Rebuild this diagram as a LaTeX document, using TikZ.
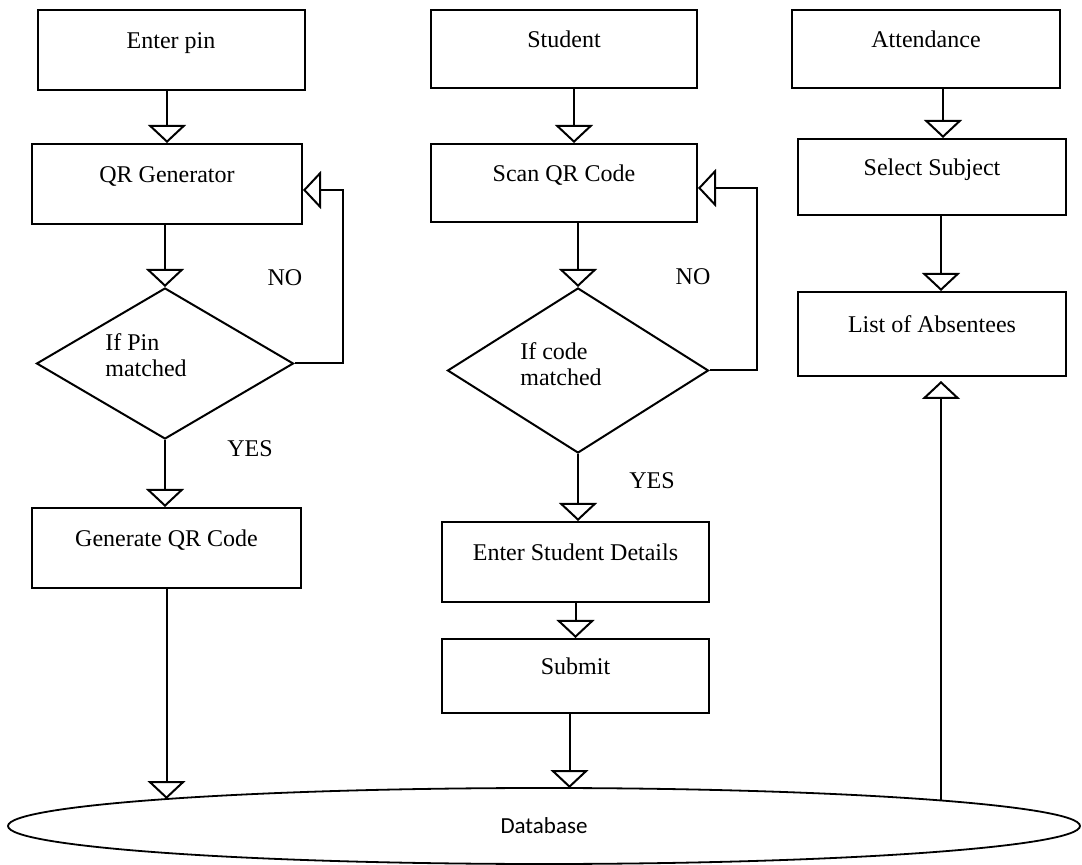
\documentclass[tikz,border=0pt]{standalone}
\usepackage{fontspec}
\setmainfont{Liberation Serif}
\newfontfamily\dbfont{Carlito}
\usetikzlibrary{arrows.meta, shapes.geometric}

\tikzset{
  box/.style 2 args={draw, line width=1pt, rectangle, inner sep=0pt,
    minimum width=#1, minimum height=#2, text height=9pt, text depth=10pt},
  cond/.style 2 args={draw, line width=1pt, diamond, inner sep=0pt,
    minimum width=#1, minimum height=#2},
  condtext/.style={align=left, font=\fontsize{12}{13}\selectfont},
  flow/.style={line width=1pt, ->},
}

\begin{document}
\begin{tikzpicture}[>={Triangle[open, width=19pt, length=9pt]}, x=0.5pt, y=-0.5pt,
  font=\fontsize{12}{13}\selectfont]
\useasboundingbox (0,0) rectangle (1082,865);

\node[box={133.5pt}{40pt}] (enterpin) at (171,50) {Enter pin};
\node[box={135pt}{40pt}] (qrgen) at (167,184) {QR Generator};
\node[cond={128.5pt}{75.5pt}, label={[condtext, xshift=-9.5pt, yshift=4pt]center:If Pin\\matched}] (ifpin) at (165,363.5) {};
\node[box={134.5pt}{40pt}] (genqr) at (166.5,548) {Generate QR Code};

\node[box={133pt}{39pt}] (student) at (564,49) {Student};
\node[box={133pt}{39pt}] (scanqr) at (564,183) {Scan QR Code};
\node[cond={130.5pt}{82.5pt}, label={[condtext, xshift=-8.5pt, yshift=3.25pt]center:If code\\matched}] (ifcode) at (578,370.5) {};
\node[box={133.5pt}{40pt}] (details) at (575.5,562) {Enter Student Details};
\node[box={133.5pt}{37pt}] (submit) at (575.5,676) {Submit};

\node[box={134pt}{39pt}] (attendance) at (926,49) {Attendance};
\node[box={134pt}{38pt}] (subject) at (932,177) {Select Subject};
\node[box={134pt}{42pt}] (absentees) at (932,334) {List of Absentees};

\node[draw, line width=0.9pt, ellipse, inner sep=0pt, minimum width=536pt, minimum height=38pt,
  font=\dbfont\fontsize{11.5}{13}\selectfont] (database) at (544,826) {Database};

\node (no1) at (285,278) {NO};
\node (yes1) at (250,449) {YES};
\node (no2) at (693,277) {NO};
\node (yes2) at (652,481) {YES};

\coordinate (dbA) at (166.5,799);
\coordinate (dbB) at (569.5,788);
\coordinate (dbC) at (941,800.5);

\draw[flow] (qrgen.north |- enterpin.south) -- (qrgen.north);
\draw[flow] (qrgen.south -| ifpin.north) -- (ifpin.north);
\draw[flow] (ifpin.east) -- ++(48,0) |- ([yshift=-3pt]qrgen.east);
\draw[flow] (ifpin.south) -- (ifpin.south |- genqr.north);
\draw[flow] (genqr.south) -- (dbA);

\draw[flow] ([xshift=5pt]student.south) -- ([xshift=5pt]student.south |- scanqr.north);
\draw[flow] (scanqr.south -| ifcode.north) -- (ifcode.north);
\draw[flow] (ifcode.east) -- ++(47,0) |- ([yshift=-2.5pt]scanqr.east);
\draw[flow] (ifcode.south) -- (ifcode.south |- details.north);
\draw[flow] (details.south) -- (details.south |- submit.north);
\draw[flow] ([xshift=-3pt]submit.south) -- (dbB);

\draw[flow] ([xshift=8.5pt]attendance.south) -- ([xshift=8.5pt]attendance.south |- subject.north);
\draw[flow] ([xshift=4.5pt]subject.south) -- ([xshift=4.5pt]subject.south |- absentees.north);
\draw[flow] (dbC) -- ([yshift=-2pt]absentees.south -| dbC);

\end{tikzpicture}
\end{document}
